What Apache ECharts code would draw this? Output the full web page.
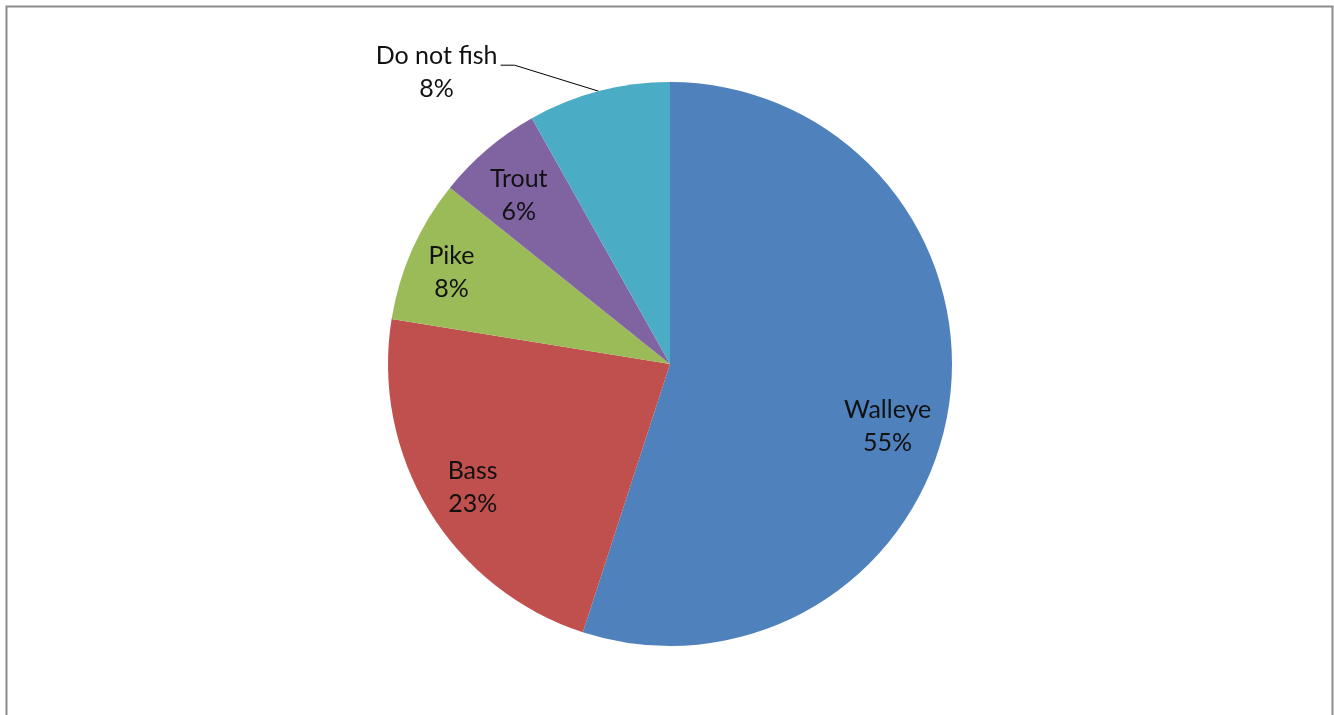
<!DOCTYPE html>
<html>
<head>
<meta charset="utf-8">
<script src="https://cdn.jsdelivr.net/npm/echarts@6/dist/echarts.min.js"></script>
<style>
html,body{margin:0;padding:0;background:#fff;}
#chart{width:1334px;height:715px;}
</style>
</head>
<body>
<div id="chart"></div>
<script>
const categories = ['Walleye', 'Bass', 'Pike', 'Trout', 'Do not fish'];
const values = [55.0, 22.55, 8.2, 6.1, 8.15];
const colors = ['#4F81BD', '#C0504D', '#9BBB59', '#8064A2', '#4BACC6'];

const CX = 670, CY = 364, R = 282;
const total = values.reduce((a, b) => a + b, 0);
const midAngles = [];
let acc = 0;
values.forEach(v => { midAngles.push((acc + v / 2) / total * 2 * Math.PI); acc += v; });
// per-label tweaks (angle offset in rad, radial factor)
const labelTweak = [[0.11, 0.80], [0, 0.82], [-0.008, 0.845], [-0.02, 0.81], [0, 1]];

const chart = echarts.init(document.getElementById('chart'));
chart.setOption({
  animation: false,
  backgroundColor: '#fff',
  graphic: [{
    type: 'rect',
    shape: { x: 6.5, y: 6.5, width: 1326, height: 740 },
    style: { fill: 'none', stroke: '#8c8c8c', lineWidth: 2 },
    silent: true
  }],
  series: [{
    type: 'pie',
    center: [CX, CY],
    radius: R,
    startAngle: 90,
    clockwise: true,
    avoidLabelOverlap: false,
    data: categories.map((c, i) => ({
      name: c,
      value: values[i],
      itemStyle: { color: colors[i] },
      label: { position: i === 4 ? 'outside' : 'inside' },
      labelLine: { show: i === 4 }
    })),
    label: {
      formatter: p => p.name + '\n' + Math.round(p.percent) + '%',
      fontFamily: 'Lato',
      fontSize: 25,
      lineHeight: 33,
      color: '#111',
      align: 'center'
    },
    labelLine: { lineStyle: { color: '#000', width: 1 } },
    itemStyle: { borderWidth: 0 },
    emphasis: { disabled: true },
    labelLayout: function (p) {
      const i = p.dataIndex;
      const a = midAngles[i] + labelTweak[i][0];
      const f = labelTweak[i][1];
      const dx = Math.sin(a), dy = -Math.cos(a);
      if (i === 4) {
        const sx = CX + R * dx, sy = CY + R * dy;
        const p1 = [sx - 84, sy - 26];
        const p2 = [p1[0] - 14, p1[1]];
        return {
          x: p2[0] - 64,
          y: p2[1] + 7,
          align: 'center',
          verticalAlign: 'middle',
          labelLinePoints: [[sx, sy], p1, p2]
        };
      }
      return { x: CX + f * R * dx, y: CY + f * R * dy + 3, align: 'center', verticalAlign: 'middle' };
    }
  }]
});
</script>
</body>
</html>
